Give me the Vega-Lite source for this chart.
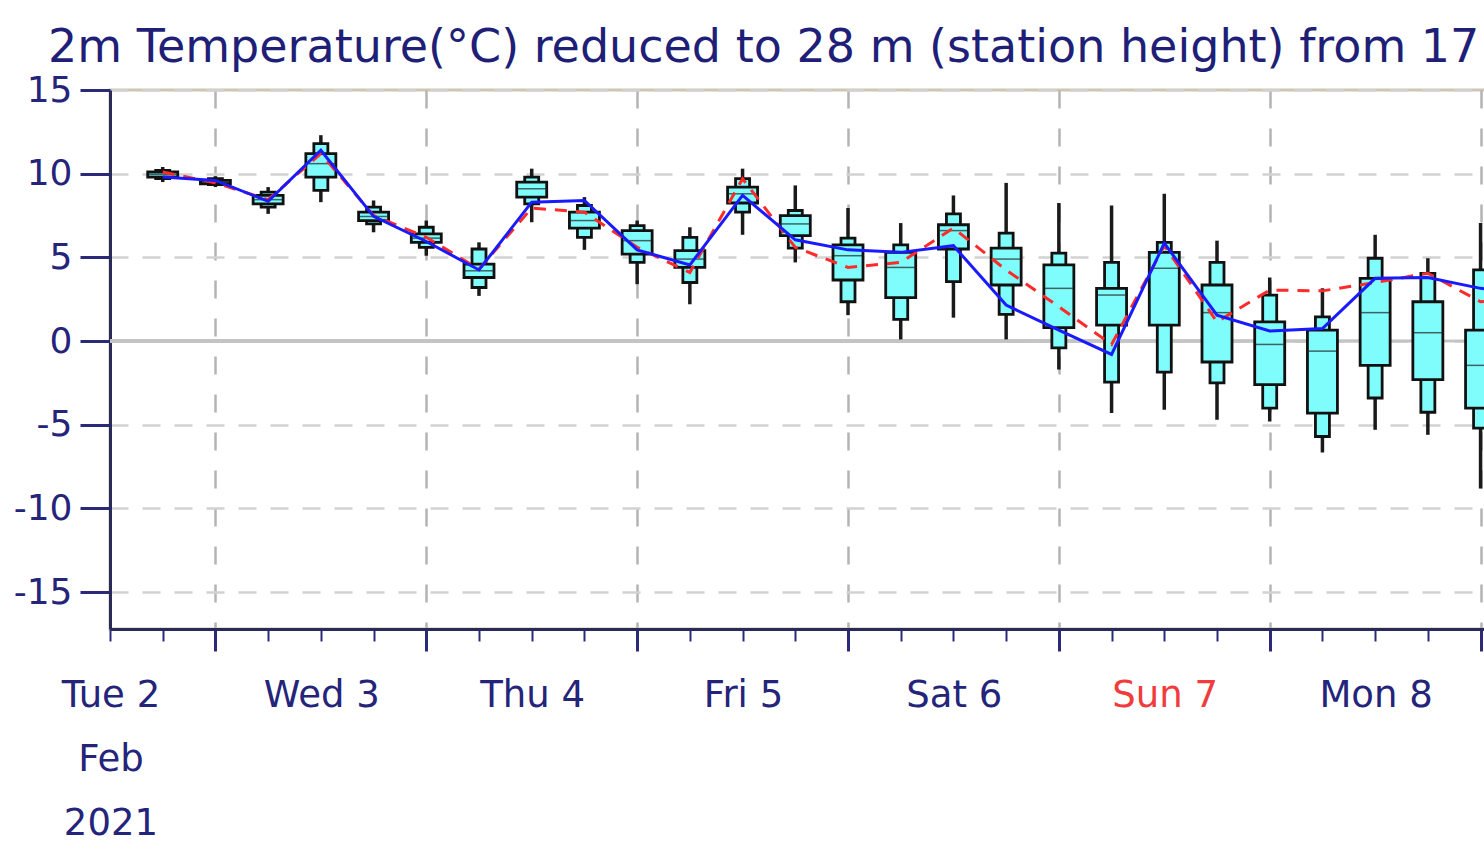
{
  "$schema": "https://vega.github.io/schema/vega-lite/v6.json",
  "width": 1476,
  "height": 539,
  "autosize": "none",
  "padding": {"left": 110, "top": 90, "right": 0, "bottom": 225},
  "background": "white",
  "title": {
    "text": "2m Temperature(°C) reduced to 28 m (station height) from 17 m (HRES) and 22 m (ENS)",
    "anchor": "start",
    "frame": "group",
    "dx": -62,
    "offset": 0,
    "font": "DejaVu Sans",
    "fontSize": 46,
    "fontWeight": "normal",
    "color": "#1f1f78"
  },
  "data": {
    "values": [
      {"time": "2021-02-02T18:00:00Z", "min": 9.5, "p10": 9.7, "p25": 9.8, "med": 9.95, "p75": 10.1, "p90": 10.2, "max": 10.4, "hres": 9.8, "ctrl": 10.1},
      {"time": "2021-02-03T00:00:00Z", "min": 9.2, "p10": 9.35, "p25": 9.4, "med": 9.5, "p75": 9.6, "p90": 9.7, "max": 9.85, "hres": 9.6, "ctrl": 9.45},
      {"time": "2021-02-03T06:00:00Z", "min": 7.6, "p10": 8.0, "p25": 8.2, "med": 8.45, "p75": 8.7, "p90": 8.9, "max": 9.2, "hres": 8.35, "ctrl": 8.45},
      {"time": "2021-02-03T12:00:00Z", "min": 8.3, "p10": 9.0, "p25": 9.8, "med": 10.6, "p75": 11.2, "p90": 11.8, "max": 12.3, "hres": 11.4, "ctrl": 11.2},
      {"time": "2021-02-03T18:00:00Z", "min": 6.5, "p10": 7.0, "p25": 7.2, "med": 7.45, "p75": 7.7, "p90": 8.0, "max": 8.4, "hres": 7.45, "ctrl": 7.5},
      {"time": "2021-02-04T00:00:00Z", "min": 5.1, "p10": 5.6, "p25": 5.9, "med": 6.15, "p75": 6.4, "p90": 6.8, "max": 7.2, "hres": 5.95, "ctrl": 6.2},
      {"time": "2021-02-04T06:00:00Z", "min": 2.7, "p10": 3.2, "p25": 3.8, "med": 4.2, "p75": 4.6, "p90": 5.5, "max": 5.9, "hres": 4.25, "ctrl": 4.3},
      {"time": "2021-02-04T12:00:00Z", "min": 7.1, "p10": 8.2, "p25": 8.6, "med": 9.1, "p75": 9.5, "p90": 9.8, "max": 10.3, "hres": 8.3, "ctrl": 7.95},
      {"time": "2021-02-04T18:00:00Z", "min": 5.45, "p10": 6.2, "p25": 6.75, "med": 7.2, "p75": 7.7, "p90": 8.1, "max": 8.6, "hres": 8.4, "ctrl": 7.7},
      {"time": "2021-02-05T00:00:00Z", "min": 3.4, "p10": 4.7, "p25": 5.2, "med": 6.0, "p75": 6.6, "p90": 6.9, "max": 7.2, "hres": 5.45, "ctrl": 5.6},
      {"time": "2021-02-05T06:00:00Z", "min": 2.2, "p10": 3.5, "p25": 4.4, "med": 4.9, "p75": 5.4, "p90": 6.2, "max": 6.8, "hres": 4.55, "ctrl": 4.1},
      {"time": "2021-02-05T12:00:00Z", "min": 6.35, "p10": 7.7, "p25": 8.25, "med": 8.8, "p75": 9.2, "p90": 9.7, "max": 10.3, "hres": 8.7, "ctrl": 9.7},
      {"time": "2021-02-05T18:00:00Z", "min": 4.7, "p10": 5.55, "p25": 6.3, "med": 7.0, "p75": 7.5, "p90": 7.8, "max": 9.3, "hres": 6.05, "ctrl": 5.6},
      {"time": "2021-02-06T00:00:00Z", "min": 1.55, "p10": 2.35, "p25": 3.65, "med": 5.1, "p75": 5.75, "p90": 6.15, "max": 7.95, "hres": 5.45, "ctrl": 4.4},
      {"time": "2021-02-06T06:00:00Z", "min": 0.1, "p10": 1.3, "p25": 2.6, "med": 4.4, "p75": 5.3, "p90": 5.75, "max": 7.05, "hres": 5.3, "ctrl": 4.7},
      {"time": "2021-02-06T12:00:00Z", "min": 1.4, "p10": 3.55, "p25": 5.5, "med": 6.6, "p75": 6.95, "p90": 7.6, "max": 8.7, "hres": 5.7, "ctrl": 6.75},
      {"time": "2021-02-06T18:00:00Z", "min": 0.1, "p10": 1.6, "p25": 3.35, "med": 4.9, "p75": 5.55, "p90": 6.45, "max": 9.45, "hres": 2.15, "ctrl": 4.25},
      {"time": "2021-02-07T00:00:00Z", "min": -1.7, "p10": -0.4, "p25": 0.8, "med": 3.15, "p75": 4.55, "p90": 5.25, "max": 8.25, "hres": 0.65, "ctrl": 2.05},
      {"time": "2021-02-07T06:00:00Z", "min": -4.3, "p10": -2.45, "p25": 0.95, "med": 2.75, "p75": 3.15, "p90": 4.7, "max": 8.1, "hres": -0.8, "ctrl": -0.2},
      {"time": "2021-02-07T12:00:00Z", "min": -4.1, "p10": -1.85, "p25": 0.95, "med": 4.35, "p75": 5.3, "p90": 5.9, "max": 8.8, "hres": 5.85, "ctrl": 5.7},
      {"time": "2021-02-07T18:00:00Z", "min": -4.7, "p10": -2.5, "p25": -1.25, "med": 1.7, "p75": 3.35, "p90": 4.7, "max": 6.0, "hres": 1.55, "ctrl": 1.15},
      {"time": "2021-02-08T00:00:00Z", "min": -4.8, "p10": -4.0, "p25": -2.6, "med": -0.2, "p75": 1.15, "p90": 2.75, "max": 3.8, "hres": 0.6, "ctrl": 3.05},
      {"time": "2021-02-08T06:00:00Z", "min": -6.65, "p10": -5.7, "p25": -4.3, "med": -0.6, "p75": 0.65, "p90": 1.45, "max": 3.15, "hres": 0.75, "ctrl": 3.0},
      {"time": "2021-02-08T12:00:00Z", "min": -5.3, "p10": -3.4, "p25": -1.45, "med": 1.7, "p75": 3.75, "p90": 4.95, "max": 6.35, "hres": 3.75, "ctrl": 3.5},
      {"time": "2021-02-08T18:00:00Z", "min": -5.6, "p10": -4.25, "p25": -2.3, "med": 0.5, "p75": 2.35, "p90": 4.05, "max": 4.95, "hres": 3.8, "ctrl": 4.05},
      {"time": "2021-02-09T00:00:00Z", "min": -8.8, "p10": -5.2, "p25": -4.0, "med": -1.45, "p75": 0.65, "p90": 4.25, "max": 7.05, "hres": 3.15, "ctrl": 2.35},
      {"time": "2021-02-09T06:00:00Z", "min": -9.0, "p10": -6.0, "p25": -3.5, "med": -1.0, "p75": 1.5, "p90": 4.0, "max": 7.0, "hres": 2.9, "ctrl": 2.6}
    ]
  },
  "encoding": {
    "x": {
      "field": "time",
      "type": "temporal",
      "scale": {
        "type": "utc",
        "domain": [
          {"year": 2021, "month": 2, "date": 2, "hours": 12, "utc": true},
          {"year": 2021, "month": 2, "date": 9, "hours": 12, "utc": true}
        ],
        "nice": false,
        "padding": 0
      },
      "axis": null
    }
  },
  "layer": [
    {
      "mark": {"type": "rule", "color": "#c4c4c4", "strokeWidth": 2.5},
      "encoding": {
        "x": {
          "field": "time",
          "type": "temporal",
          "axis": {
            "orient": "bottom",
            "title": null,
            "tickCount": {"interval": "day", "step": 1},
            "labels": false,
            "domain": false,
            "tickColor": "#2a2a78",
            "tickSize": 22,
            "tickWidth": 3,
            "grid": true,
            "gridColor": "#b4b4b4",
            "gridWidth": 2.5,
            "gridDash": [18, 20]
          }
        },
        "y": {
          "datum": 0,
          "type": "quantitative",
          "scale": {"domain": [-17.2, 15], "nice": false, "zero": false, "padding": 0},
          "axis": {
            "title": null,
            "values": [-15, -10, -5, 0, 5, 10, 15],
            "labelExpr": "datum.value < 0 ? '-' + abs(datum.value) : '' + datum.value",
            "labelFont": "DejaVu Sans",
            "labelFontSize": 36,
            "labelColor": "#24247a",
            "labelPadding": 8,
            "domainColor": "#2a2a5a",
            "domainWidth": 3,
            "tickColor": "#2a2a78",
            "tickSize": 30,
            "tickWidth": 3,
            "grid": true,
            "gridColor": "#d2d2d2",
            "gridWidth": 2.5,
            "gridDash": [18, 14]
          }
        },
        "x2": {"value": 0},
        "strokeOpacity": {"value": 0}
      }
    },
    {
      "mark": {"type": "rule", "color": "#c4c4c4", "strokeWidth": 2.5},
      "encoding": {
        "x": {
          "field": "time",
          "type": "temporal",
          "axis": {
            "orient": "bottom",
            "title": null,
            "tickCount": {"interval": "day", "step": 1},
            "labelExpr": "utcdate(datum.value) == 3 ? 'Feb' : ''",
            "labelOffset": -105,
            "labelOverlap": false,
            "labelFlush": false,
            "labelBound": false,
            "labelFont": "DejaVu Sans",
            "labelFontSize": 37,
            "labelColor": "#24247a",
            "labelPadding": 112,
            "ticks": false,
            "tickSize": 0,
            "domain": false,
            "grid": false
          }
        },
        "y": {"datum": 0, "type": "quantitative", "scale": {"domain": [-17.2, 15], "nice": false, "zero": false, "padding": 0}, "axis": null},
        "x2": {"value": 0},
        "strokeOpacity": {"value": 0}
      }
    },
    {
      "mark": {"type": "rule", "color": "#c4c4c4", "strokeWidth": 2.5},
      "encoding": {
        "x": {
          "field": "time",
          "type": "temporal",
          "axis": {
            "orient": "bottom",
            "title": null,
            "tickCount": {"interval": "day", "step": 1},
            "labelExpr": "utcdate(datum.value) == 3 ? '2021' : ''",
            "labelOffset": -105,
            "labelOverlap": false,
            "labelFlush": false,
            "labelBound": false,
            "labelFont": "DejaVu Sans",
            "labelFontSize": 37,
            "labelColor": "#24247a",
            "labelPadding": 176,
            "ticks": false,
            "tickSize": 0,
            "domain": false,
            "grid": false
          }
        },
        "y": {"datum": 0, "type": "quantitative", "scale": {"domain": [-17.2, 15], "nice": false, "zero": false, "padding": 0}, "axis": null},
        "x2": {"value": 0},
        "strokeOpacity": {"value": 0}
      }
    },
    {
      "mark": {"type": "rule", "color": "#c4c4c4", "strokeWidth": 2.5},
      "encoding": {
        "x": {
          "field": "time",
          "type": "temporal",
          "axis": {
            "orient": "bottom",
            "title": null,
            "tickCount": {"interval": "day", "step": 1},
            "labelExpr": "utcFormat(datum.value - 86400000, '%a %-d')",
            "labelOffset": -105,
            "labelOverlap": false,
            "labelFlush": false,
            "labelBound": false,
            "labelFont": "DejaVu Sans",
            "labelFontSize": 37,
            "labelColor": {"condition": {"test": "utcday(datum.value) == 1", "value": "#f03c3c"}, "value": "#24247a"},
            "labelPadding": 48,
            "ticks": false,
            "tickSize": 0,
            "domain": false,
            "grid": false
          }
        },
        "y": {"datum": 0, "type": "quantitative", "scale": {"domain": [-17.2, 15], "nice": false, "zero": false, "padding": 0}, "axis": null},
        "x2": {"value": 0}
      }
    },
    {
      "mark": {"type": "rule", "color": "#1a1a1a", "strokeWidth": 3.5},
      "encoding": {
        "x": {
          "field": "time",
          "type": "temporal",
          "axis": {
            "orient": "bottom",
            "title": null,
            "tickCount": 28,
            "labels": false,
            "domainColor": "#2a2a5a",
            "domainWidth": 3,
            "tickColor": "#2a2a78",
            "tickSize": 12,
            "tickWidth": 2,
            "grid": false
          }
        },
        "y": {"field": "min", "type": "quantitative", "scale": {"domain": [-17.2, 15], "nice": false, "zero": false, "padding": 0}, "axis": null},
        "y2": {"field": "max"}
      }
    },
    {
      "mark": {"type": "bar", "size": 14, "fill": "#7ffcfc", "stroke": "#111111", "strokeWidth": 2.8},
      "encoding": {
        "x": {"field": "time", "type": "temporal", "axis": null},
        "y": {"field": "p10", "type": "quantitative", "scale": {"domain": [-17.2, 15], "nice": false, "zero": false, "padding": 0}, "axis": null},
        "y2": {"field": "p90"}
      }
    },
    {
      "mark": {"type": "bar", "size": 30, "fill": "#7ffcfc", "stroke": "#111111", "strokeWidth": 2.8},
      "encoding": {
        "x": {"field": "time", "type": "temporal", "axis": null},
        "y": {"field": "p25", "type": "quantitative", "scale": {"domain": [-17.2, 15], "nice": false, "zero": false, "padding": 0}, "axis": null},
        "y2": {"field": "p75"}
      }
    },
    {
      "mark": {"type": "tick", "orient": "horizontal", "size": 28, "thickness": 1.5, "color": "#222222"},
      "encoding": {
        "x": {"field": "time", "type": "temporal", "axis": null},
        "y": {"field": "med", "type": "quantitative", "scale": {"domain": [-17.2, 15], "nice": false, "zero": false, "padding": 0}, "axis": null}
      }
    },
    {
      "mark": {"type": "line", "color": "#ff2a2a", "strokeWidth": 3, "strokeDash": [12, 9]},
      "encoding": {
        "x": {"field": "time", "type": "temporal", "axis": null},
        "y": {"field": "ctrl", "type": "quantitative", "scale": {"domain": [-17.2, 15], "nice": false, "zero": false, "padding": 0}, "axis": null}
      }
    },
    {
      "mark": {"type": "line", "color": "#1a1aff", "strokeWidth": 3},
      "encoding": {
        "x": {"field": "time", "type": "temporal", "axis": null},
        "y": {"field": "hres", "type": "quantitative", "scale": {"domain": [-17.2, 15], "nice": false, "zero": false, "padding": 0}, "axis": null}
      }
    }
  ],
  "resolve": {"axis": {"x": "independent", "y": "independent"}},
  "config": {
    "view": {"stroke": "#cdc6b6", "strokeWidth": 3},
    "font": "DejaVu Sans"
  }
}
